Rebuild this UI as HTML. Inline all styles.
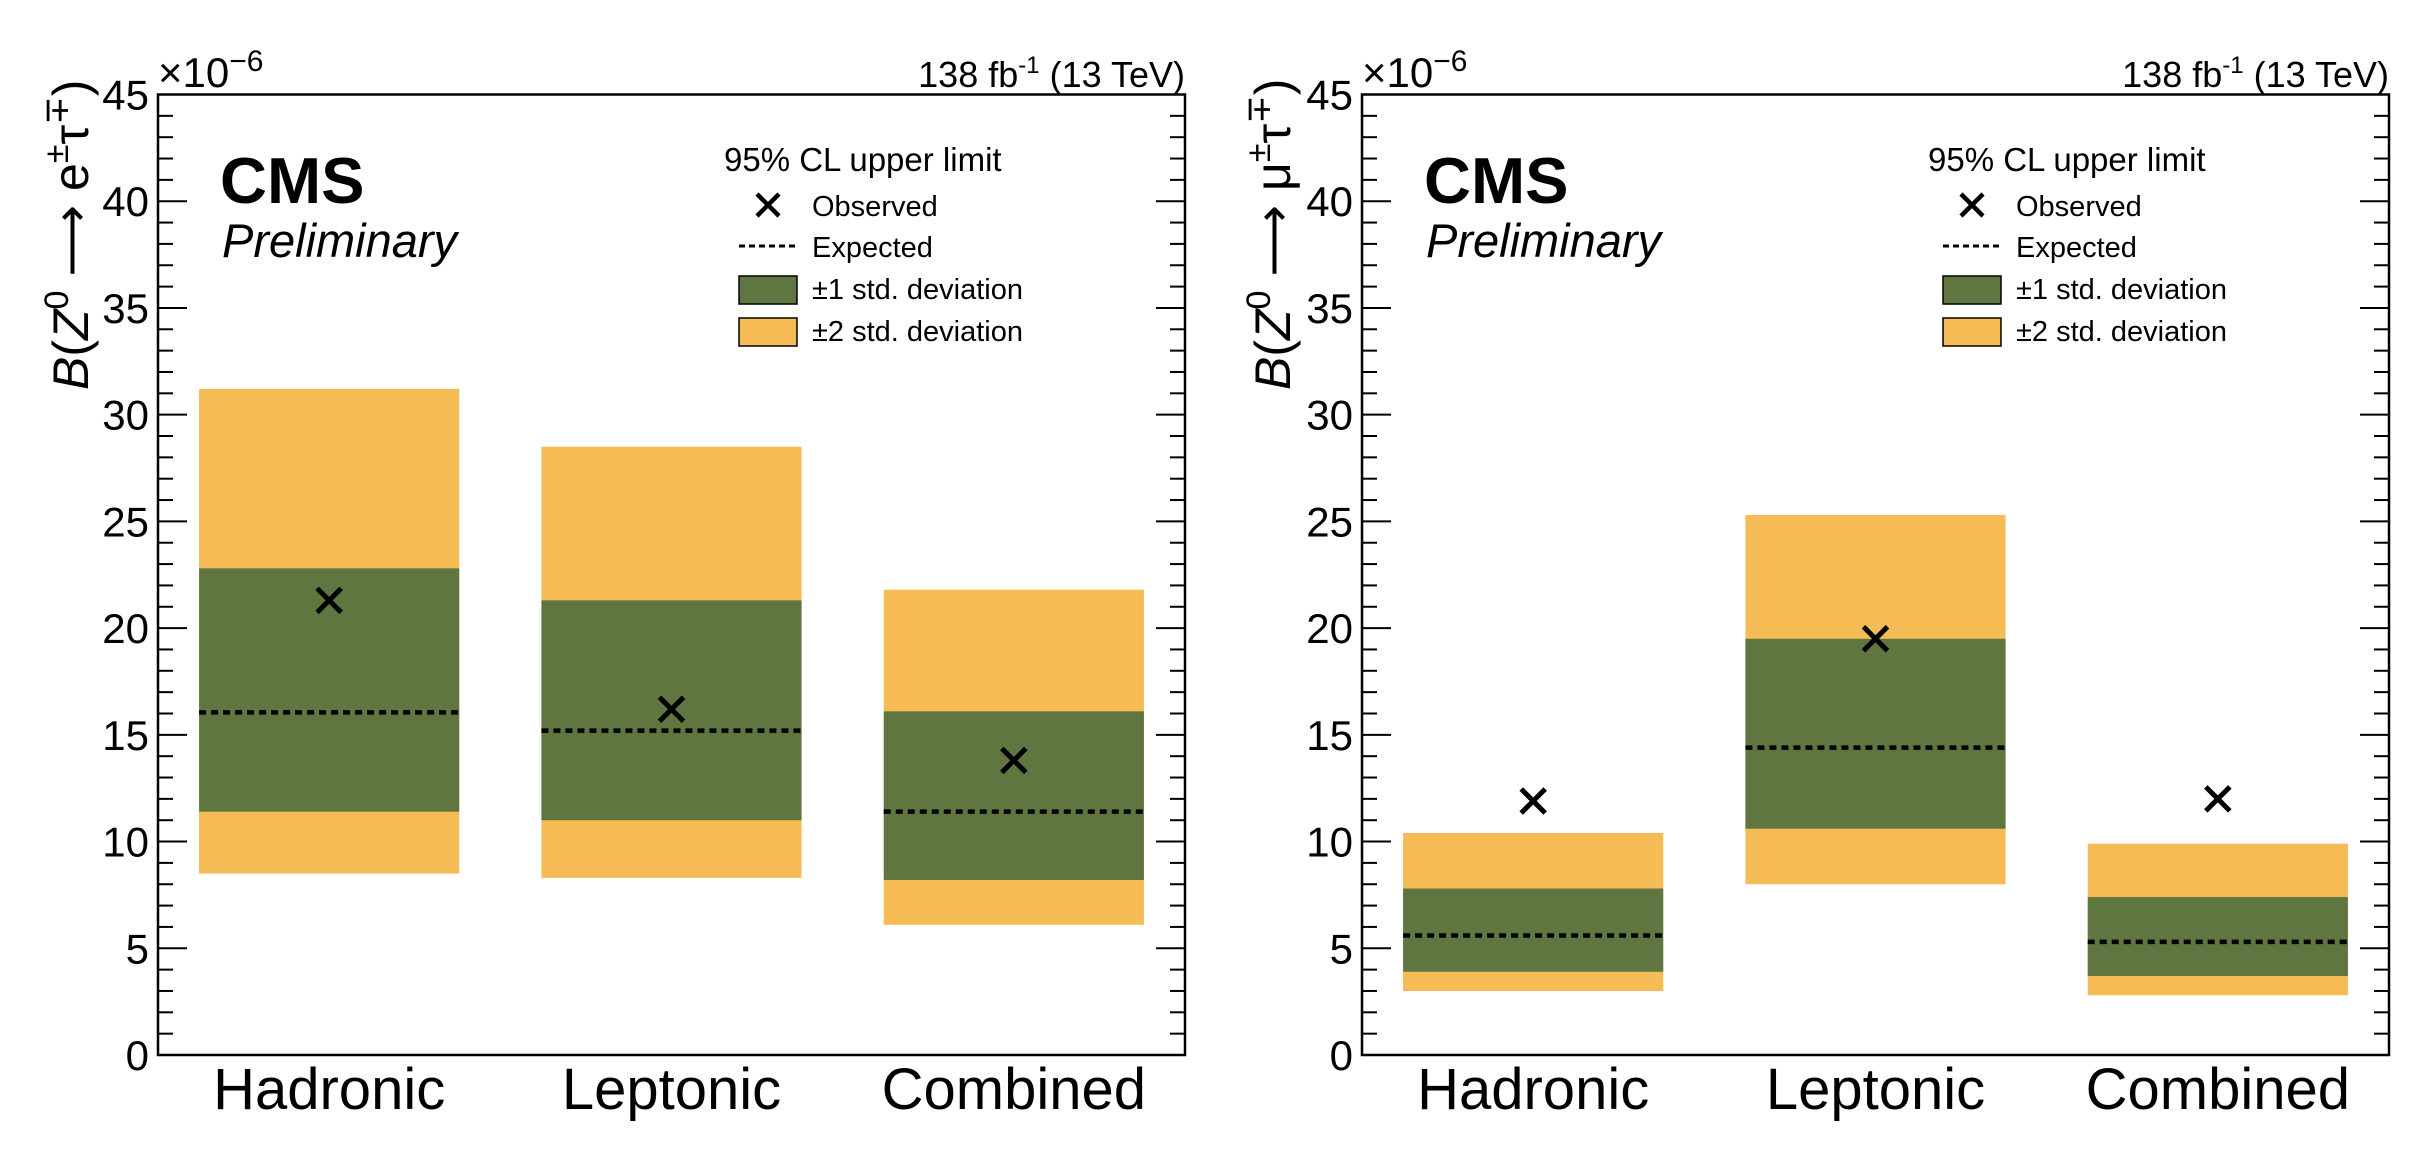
<!DOCTYPE html>
<html><head><meta charset="utf-8"><style>
html,body{margin:0;padding:0;background:#fff;}
svg{display:block;font-family:"Liberation Sans",sans-serif;}
</style></head><body>
<svg id="chart" width="2435" height="1173" viewBox="0 0 2435 1173" xmlns="http://www.w3.org/2000/svg"></svg>
<script>
const categories = ["Hadronic","Leptonic","Combined"];
const yTicks = [0,5,10,15,20,25,30,35,40,45];
// left panel: Z -> e tau
const etauObs = [21.3,16.2,13.8];
const etauExp = [16.05,15.2,11.4];
const etau1Lo = [11.4,11.0,8.2];
const etau1Hi = [22.8,21.3,16.1];
const etau2Lo = [8.5,8.3,6.1];
const etau2Hi = [31.2,28.5,21.8];
// right panel: Z -> mu tau
const mutauObs = [11.9,19.5,12.0];
const mutauExp = [5.6,14.4,5.3];
const mutau1Lo = [3.9,10.6,3.7];
const mutau1Hi = [7.8,19.5,7.4];
const mutau2Lo = [3.0,8.0,2.8];
const mutau2Hi = [10.4,25.3,9.9];

const NS="http://www.w3.org/2000/svg";
const svg=document.getElementById('chart');
function mk(tag,attrs,parent){const e=document.createElementNS(NS,tag);for(const k in attrs)e.setAttribute(k,attrs[k]);(parent||svg).appendChild(e);return e;}

const X0=158,X1=1185,Y0=1055,Y1=94.5,YMAX=45;
function yScale(v){return Y0-(v/YMAX)*(Y0-Y1);}
function xCat(i,f){const w=(X1-X0)/categories.length;return X0+w*(i+f);}

function panel(dx,name,particle,obs,exp,lo1,hi1,lo2,hi2,ytx){
  const g=mk('g',{transform:'translate('+dx+',0)'});
  
  
  for(let i=0;i<categories.length;i++){
    const xa=xCat(i,0.12),xb=xCat(i,0.88);
    const r2=mk('rect',{x:xa,y:yScale(hi2[i]),width:xb-xa,height:yScale(lo2[i])-yScale(hi2[i]),fill:'#F5BB54'},g);
    
    
    const r1=mk('rect',{x:xa,y:yScale(hi1[i]),width:xb-xa,height:yScale(lo1[i])-yScale(hi1[i]),fill:'#607641'},g);
    
    
    const le=mk('line',{x1:xa,x2:xb,y1:yScale(exp[i]),y2:yScale(exp[i]),stroke:'#000','stroke-width':4.5,'stroke-dasharray':'7 5'},g);
    
    
    const cx=xCat(i,0.5),cy=yScale(obs[i]),s=12;
    const m=mk('path',{d:`M${cx-s},${cy-s}L${cx+s},${cy+s}M${cx-s},${cy+s}L${cx+s},${cy-s}`,stroke:'#000','stroke-width':5,fill:'none'},g);
    
    
    const t=mk('text',{x:cx,y:1109,'font-size':58,'text-anchor':'middle'},g);
    t.textContent=categories[i];
    
    
  }
  for(let v=0;v<=YMAX;v++){
    const major=v%5===0, L=major?29:15, y=yScale(v);
    mk('line',{x1:X0,x2:X0+L,y1:y,y2:y,stroke:'#000','stroke-width':2},g);
    mk('line',{x1:X1,x2:X1-L,y1:y,y2:y,stroke:'#000','stroke-width':2},g);
  }
  for(let k=0;k<yTicks.length;k++){
    const t=mk('text',{x:149,y:yScale(yTicks[k])+15,'font-size':42,'text-anchor':'end'},g);
    t.textContent=yTicks[k];
    
    
  }
  const fr=mk('rect',{x:X0,y:Y1,width:X1-X0,height:Y0-Y1,fill:'none',stroke:'#000','stroke-width':2.5},g);
  
  
  const ex=mk('text',{x:158,y:87,'font-size':42},g);
  ex.innerHTML='×10<tspan dy="-16" font-size="30">−6</tspan>';
  
  
  const hd=mk('text',{x:1185,y:87,'font-size':36,'text-anchor':'end'},g);
  hd.innerHTML='138 fb<tspan dy="-14" font-size="24">-1</tspan><tspan dy="14"> (13 TeV)</tspan>';
  
  
  const yt=mk('text',{x:0,y:0,'font-size':50,transform:'translate('+ytx+',390) rotate(-90)'},g);
  yt.innerHTML='<tspan font-style="italic">B</tspan>(<tspan font-style="italic">Z</tspan><tspan dy="-20" font-size="34">0</tspan><tspan dy="20"> ⟶ </tspan><tspan>'+particle+'</tspan><tspan dy="-20" font-size="34">±</tspan><tspan dy="20">τ</tspan><tspan dy="-20" font-size="34">∓</tspan><tspan dy="20">)</tspan>';
  
  
  const cms=mk('text',{x:220,y:203,'font-size':65,'font-weight':'bold'},g);
  cms.textContent='CMS';
  
  
  const pre=mk('text',{x:222,y:257,'font-size':47,'font-style':'italic'},g);
  pre.textContent='Preliminary';
  
  
  const lg=mk('g',{},g);
  
  
  const lt=mk('text',{x:724,y:171,'font-size':33},lg);
  lt.textContent='95% CL upper limit';
  const s=11,mx=768,my=205;
  mk('path',{d:`M${mx-s},${my-s}L${mx+s},${my+s}M${mx-s},${my+s}L${mx+s},${my-s}`,stroke:'#000','stroke-width':4.5},lg);
  mk('line',{x1:739,x2:797,y1:246,y2:246,stroke:'#000','stroke-width':3,'stroke-dasharray':'6 4'},lg);
  mk('rect',{x:739,y:276,width:58,height:28,fill:'#607641',stroke:'#000','stroke-width':1.5},lg);
  mk('rect',{x:739,y:318,width:58,height:28,fill:'#F5BB54',stroke:'#000','stroke-width':1.5},lg);
  const labels=['Observed','Expected','±1 std. deviation','±2 std. deviation'],ys=[216,257,299,341];
  for(let k=0;k<4;k++){
    const t=mk('text',{x:812,y:ys[k],'font-size':29},lg);
    t.textContent=labels[k];
    
    
  }
}
panel(0,'etau-panel','e',etauObs,etauExp,etau1Lo,etau1Hi,etau2Lo,etau2Hi,88);
panel(1204,'mutau-panel','μ',mutauObs,mutauExp,mutau1Lo,mutau1Hi,mutau2Lo,mutau2Hi,86);
</script>
</body></html>
